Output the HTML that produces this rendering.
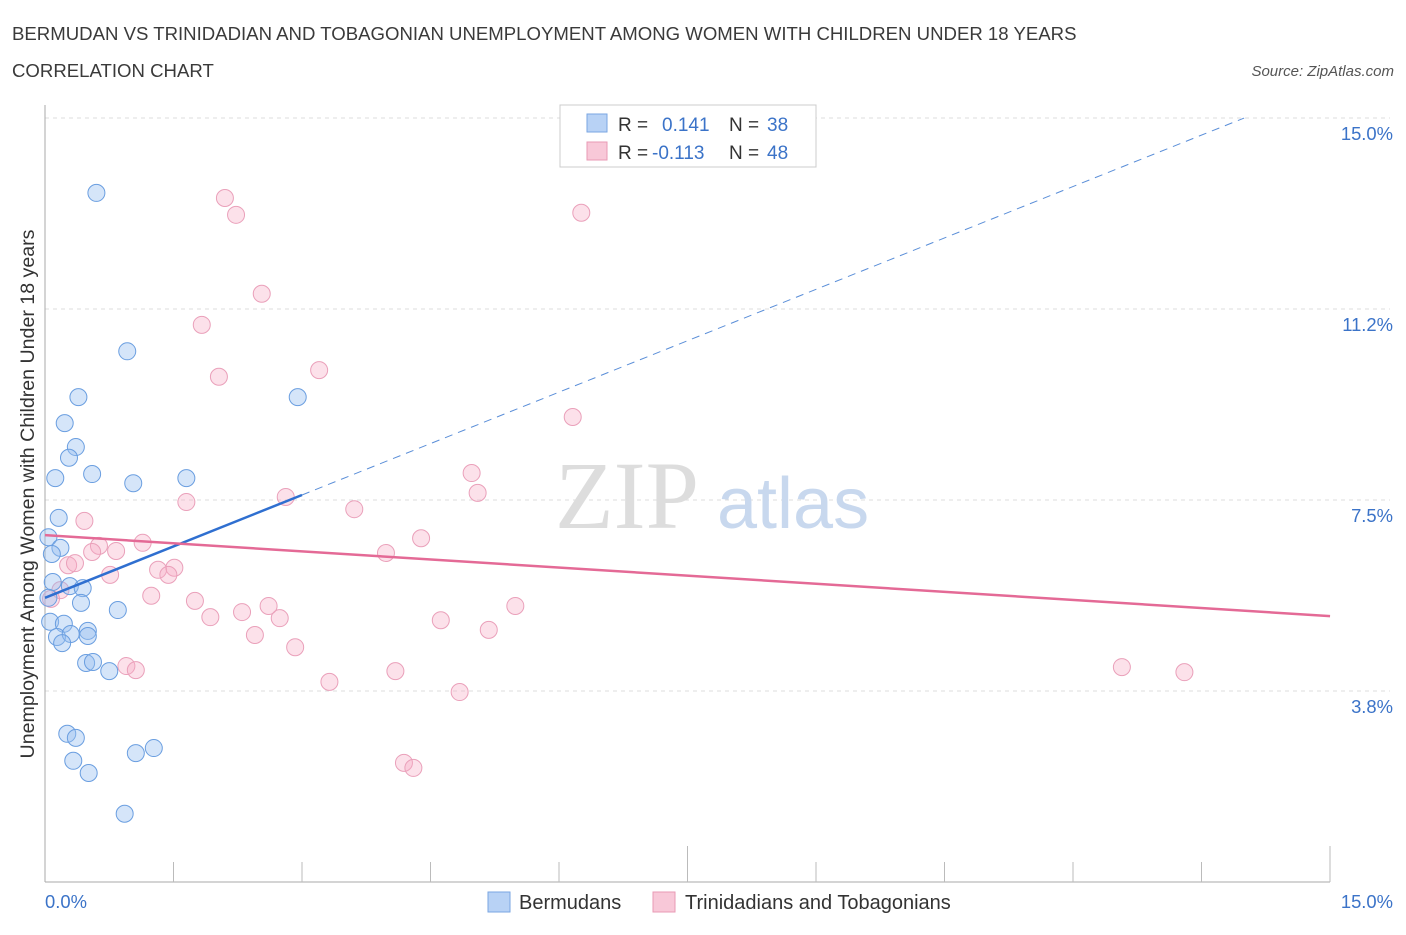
<!DOCTYPE html>
<html><head><meta charset="utf-8"><style>
body{margin:0;background:#fff;font-family:"Liberation Sans",sans-serif;}
</style></head><body>
<svg width="1406" height="930" xmlns="http://www.w3.org/2000/svg">
<text x="12" y="40" font-size="18.6" fill="#3a3a3a">BERMUDAN VS TRINIDADIAN AND TOBAGONIAN UNEMPLOYMENT AMONG WOMEN WITH CHILDREN UNDER 18 YEARS</text>
<text x="12" y="77" font-size="18.6" fill="#3a3a3a">CORRELATION CHART</text>
<text x="1394" y="76" font-size="15" fill="#555" font-style="italic" text-anchor="end">Source: ZipAtlas.com</text>
<g id="grid"></g>
<text x="555" y="528" font-size="96" fill="#ddd" font-family="Liberation Serif,serif">ZIP</text>
<text x="717" y="528" font-size="72" fill="#c8d8ee">atlas</text>
<line x1="45" y1="105" x2="45" y2="882" stroke="#aaa"/>
<line x1="45" y1="882" x2="1330" y2="882" stroke="#aaa"/>
<g id="ticks"></g>
<text transform="translate(34,494) rotate(-90)" font-size="19.6" fill="#333" text-anchor="middle">Unemployment Among Women with Children Under 18 years</text>
<text x="45" y="908" font-size="18.4" fill="#3b73c8">0.0%</text>
<text x="1393" y="908" font-size="18.4" fill="#3b73c8" text-anchor="end">15.0%</text>
<g id="pts"></g>
<g id="lines"></g>
<g>
<rect x="560" y="105" width="256" height="62" fill="#fff" stroke="#ccc"/>
<rect x="587" y="114" width="20" height="18" fill="#b8d2f5" stroke="#7aa6e2"/>
<rect x="587" y="142" width="20" height="18" fill="#f8c8d8" stroke="#e89ab4"/>
<text x="618" y="131" font-size="19" fill="#333">R = </text><text x="662" y="131" font-size="19" fill="#3b73c8">0.141</text>
<text x="729" y="131" font-size="19" fill="#333">N = </text><text x="767" y="131" font-size="19" fill="#3b73c8">38</text>
<text x="618" y="159" font-size="19" fill="#333">R = </text><text x="652" y="159" font-size="19" fill="#3b73c8">-0.113</text>
<text x="729" y="159" font-size="19" fill="#333">N = </text><text x="767" y="159" font-size="19" fill="#3b73c8">48</text>
</g>
<g>
<rect x="488" y="892" width="22" height="20" fill="#b8d2f5" stroke="#7aa6e2"/>
<text x="519" y="909" font-size="20" fill="#333">Bermudans</text>
<rect x="653" y="892" width="22" height="20" fill="#f8c8d8" stroke="#e89ab4"/>
<text x="685" y="909" font-size="20" fill="#333">Trinidadians and Tobagonians</text>
</g>
</svg>
<script>
const yTicks=[3.75,7.5,11.25,15];
const yTickLabels=["3.8%","7.5%","11.2%","15.0%"];
const blueX=[0.60,0.96,0.39,2.95,0.23,0.36,0.28,0.12,0.55,1.03,1.65,0.16,0.04,0.18,0.08,0.09,0.29,0.44,0.42,0.85,0.06,0.22,0.14,0.30,0.50,0.50,0.20,0.48,0.56,0.75,0.26,0.36,0.33,0.51,1.06,1.27,0.93,0.04];
const blueY=[13.53,10.42,9.52,9.52,9.01,8.54,8.33,7.93,8.01,7.83,7.93,7.15,6.77,6.56,6.44,5.89,5.81,5.77,5.48,5.34,5.11,5.07,4.81,4.87,4.93,4.83,4.69,4.30,4.32,4.14,2.91,2.83,2.38,2.14,2.53,2.63,1.34,5.58];
const pinkX=[2.10,2.23,6.26,2.53,1.83,2.03,3.20,6.16,4.98,5.05,1.65,2.81,3.61,0.46,4.39,1.14,0.83,0.63,0.55,3.98,0.27,0.35,0.76,1.32,1.51,1.44,0.18,0.07,1.24,1.75,2.30,2.61,2.74,1.93,4.62,5.18,5.49,2.45,2.92,0.95,1.06,4.09,3.32,4.84,4.19,4.30,12.57,13.30];
const pinkY=[13.43,13.10,13.14,11.55,10.94,9.92,10.05,9.13,8.03,7.64,7.46,7.56,7.32,7.09,6.75,6.66,6.50,6.60,6.48,6.46,6.22,6.26,6.03,6.13,6.17,6.03,5.73,5.56,5.62,5.52,5.30,5.42,5.18,5.20,5.14,4.95,5.42,4.85,4.61,4.24,4.16,4.14,3.93,3.73,2.34,2.24,4.22,4.12];
const blueTrend=[5.58,0.673];
const pinkTrend=[6.81,-0.106];
const NS="http://www.w3.org/2000/svg";
const sx=v=>45+v*85.67, sy=v=>882-v*50.93;
function mk(t,a,p){const e=document.createElementNS(NS,t);for(const k in a)e.setAttribute(k,a[k]);p.appendChild(e);return e;}
const grid=document.getElementById('grid');
yTicks.forEach((v,i)=>{
  const l=mk('line',{x1:45,x2:1390,y1:sy(v),y2:sy(v),stroke:'#ddd','stroke-dasharray':'4,4'},grid);
  
  
  const t=mk('text',{x:1393,y:sy(v)+22,'font-size':18.4,fill:'#3b73c8','text-anchor':'end'},grid);
  t.textContent=yTickLabels[i];
  
  
});
const ticks=document.getElementById('ticks');
for(let i=1;i<=10;i++){
  const x=45+i*128.5;
  const l=mk('line',{x1:x,x2:x,y1:(i==5||i==10)?846:862,y2:882,stroke:'#bbb'},ticks);
  
  
}
const pts=document.getElementById('pts');
pinkX.forEach((x,i)=>{
  const c=mk('circle',{cx:sx(x),cy:sy(pinkY[i]),r:8.5,fill:'rgba(245,170,195,0.35)',stroke:'#eaa0ba','stroke-width':1},pts);
  
  
});
blueX.forEach((x,i)=>{
  const c=mk('circle',{cx:sx(x),cy:sy(blueY[i]),r:8.5,fill:'rgba(150,190,240,0.4)',stroke:'#6a9ee0','stroke-width':1},pts);
  
  
});
const lines=document.getElementById('lines');
const bt=x=>blueTrend[0]+blueTrend[1]*x, pt=x=>pinkTrend[0]+pinkTrend[1]*x;
let l=mk('line',{x1:sx(0),y1:sy(bt(0)),x2:sx(3),y2:sy(bt(3)),stroke:'#2f6fd0','stroke-width':2.5},lines);


const xe=(15-blueTrend[0])/blueTrend[1];
l=mk('line',{x1:sx(3),y1:sy(bt(3)),x2:sx(xe),y2:sy(15),stroke:'#5a8ed8','stroke-width':1,'stroke-dasharray':'8,6'},lines);


l=mk('line',{x1:sx(0),y1:sy(pt(0)),x2:sx(15),y2:sy(pt(15)),stroke:'#e46a96','stroke-width':2.5},lines);


</script>
</body></html>
